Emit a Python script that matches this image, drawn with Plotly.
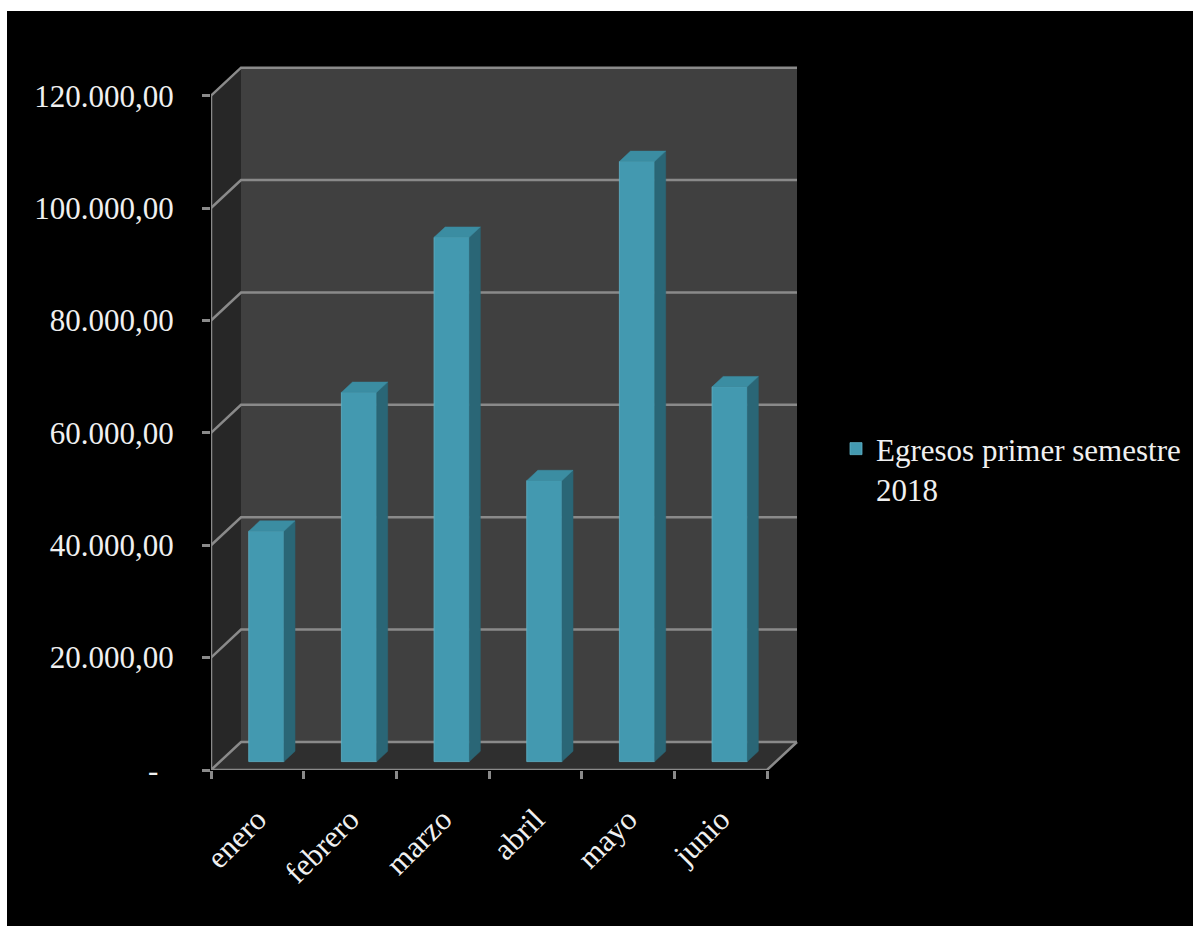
import plotly.graph_objects as go

# ---- data ----
meses = ["enero", "febrero", "marzo", "abril", "mayo", "junio"]
egresos = [41000, 65700, 93300, 50000, 106800, 66700]
serie = "Egresos primer semestre<br>2018"
y_ticks = [0, 20000, 40000, 60000, 80000, 100000, 120000]
y_tick_text = ["-\u00a0\u00a0", "20.000,00", "40.000,00", "60.000,00",
               "80.000,00", "100.000,00", "120.000,00"]

# ---- page / plot geometry (pixels) ----
W, H = 1193, 926
PL, PR, PT, PB = 211, 800, 60, 770          # plot area box
FRONT_W = 556                                # width of the front face of the box
FRONT_H = 674.3                              # height from 0 to 120.000 on the front
DEPTH_PX = (30, 28)                          # oblique depth offset of the box

n = len(meses)
cat_px = FRONT_W / n
x_range = [-0.5, -0.5 + (PR - PL) / cat_px]
y_top = max(y_ticks)
y_range = [0, y_top * (PB - PT) / FRONT_H]

DX = DEPTH_PX[0] / cat_px                    # depth in category units
DY = DEPTH_PX[1] * y_top / FRONT_H           # depth in value units

D0 = 0.30        # bar front position along the depth
DB = 0.37        # bar depth
BW = 0.38        # bar width (category units)

GRID = "#8a8a8a"
WALL_BACK = "#404040"
WALL_SIDE = "#272727"
FLOOR = "#2f2f2f"
FRONT = "#4399b0"
SIDE = "#2a6676"
TOP = "#3b8da2"
TXT = "#f0f0f0"
FONT = "Liberation Serif"

xl, xr = -0.5, n - 0.5


def path(pts):
    return "M " + " L ".join(f"{x},{y}" for x, y in pts) + " Z"


shapes = []
# black panel with a thin white strip on the top and left
shapes.append(dict(type="rect", xref="paper", yref="paper", layer="below",
                   x0=(7 - PL) / (PR - PL), x1=(W + 5 - PL) / (PR - PL),
                   y0=(PB - H - 5) / (PB - PT), y1=(PB - 11) / (PB - PT),
                   fillcolor="black", line=dict(width=0)))
# side wall, back wall, floor
shapes.append(dict(type="path", xref="x", yref="y", layer="below",
                   path=path([(xl, 0), (xl, y_top), (xl + DX, y_top + DY), (xl + DX, DY)]),
                   fillcolor=WALL_SIDE, line=dict(width=0)))
shapes.append(dict(type="path", xref="x", yref="y", layer="below",
                   path=path([(xl + DX, DY), (xl + DX, y_top + DY), (xr + DX, y_top + DY), (xr + DX, DY)]),
                   fillcolor=WALL_BACK, line=dict(width=0)))
shapes.append(dict(type="path", xref="x", yref="y", layer="below",
                   path=path([(xl, 0), (xr, 0), (xr + DX, DY), (xl + DX, DY)]),
                   fillcolor=FLOOR, line=dict(width=0)))
# gridlines running across the side wall and the back wall
for v in y_ticks:
    shapes.append(dict(type="path", xref="x", yref="y", layer="below",
                       path=f"M {xl},{v} L {xl + DX},{v + DY} L {xr + DX},{v + DY}",
                       line=dict(color=GRID, width=2.5)))
# front edges of the box
shapes.append(dict(type="path", xref="x", yref="y", layer="below",
                   path=f"M {xl},{y_top} L {xl},0 L {xr},0 L {xr + DX},{DY}",
                   line=dict(color=GRID, width=2.5)))

fig = go.Figure()

# bar front faces
fig.add_trace(go.Bar(
    x=[i + D0 * DX for i in range(n)], y=egresos, base=D0 * DY, width=BW,
    marker=dict(color=FRONT, line=dict(color="#5fb3c8", width=0.8)),
    name=serie, showlegend=True, hoverinfo="skip"))

# bar side and top faces
for i, v in enumerate(egresos):
    x0 = i + D0 * DX - BW / 2
    x1 = x0 + BW
    yb = D0 * DY
    yt = v + D0 * DY
    ex, ey = DB * DX, DB * DY
    side = [(x1, yb), (x1 + ex, yb + ey), (x1 + ex, yt + ey), (x1, yt), (x1, yb)]
    top = [(x0, yt), (x1, yt), (x1 + ex, yt + ey), (x0 + ex, yt + ey), (x0, yt)]
    for pts, col in ((side, SIDE), (top, TOP)):
        fig.add_trace(go.Scatter(
            x=[p[0] for p in pts], y=[p[1] for p in pts], mode="lines",
            fill="toself", fillcolor=col, line=dict(color=col, width=0.5),
            showlegend=False, hoverinfo="skip"))

fig.update_layout(
    width=W, height=H,
    margin=dict(l=PL, r=W - PR, t=PT, b=H - PB, pad=0, autoexpand=False),
    paper_bgcolor="white", plot_bgcolor="rgba(0,0,0,0)",
    shapes=shapes,
    font=dict(family=FONT, size=31, color=TXT),
    showlegend=True,
    legend=dict(x=(836 - PL) / (PR - PL), xanchor="left",
                y=(PB - 422) / (PB - PT), yanchor="top",
                bgcolor="rgba(0,0,0,0)", valign="top",
                font=dict(family=FONT, size=31, color=TXT)),
    xaxis=dict(range=x_range, showgrid=False, zeroline=False, showline=False,
               tickmode="array", tickvals=list(range(n)), ticktext=meses,
               tickangle=-45, ticks="outside", ticklen=8,
               tickcolor="rgba(0,0,0,0)", ticklabelstandoff=10,
               minor=dict(tickmode="array", tickvals=[i - 0.5 for i in range(n + 1)],
                          ticks="outside", ticklen=8, tickcolor=GRID, tickwidth=2.5,
                          showgrid=False),
               fixedrange=True),
    yaxis=dict(range=y_range, showgrid=False, zeroline=False, showline=False,
               tickmode="array", tickvals=y_ticks, ticktext=y_tick_text,
               ticks="outside", ticklen=8, tickcolor=GRID, tickwidth=2.5,
               ticklabelstandoff=22, fixedrange=True),
)

fig.write_html("out.html")
